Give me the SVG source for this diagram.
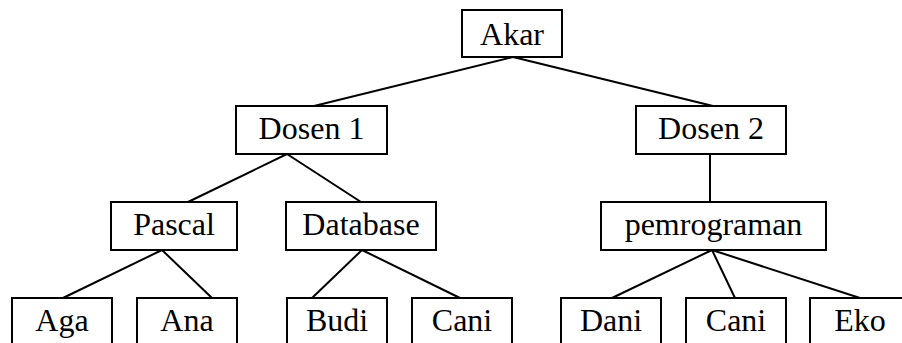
<svg xmlns="http://www.w3.org/2000/svg" width="902" height="343" viewBox="0 0 902 343">
<style>
.box{fill:#fff;stroke:#000;stroke-width:2}
.lbl{font-family:"Liberation Serif","Times New Roman",serif;font-size:32px;fill:#000;text-anchor:middle}
.edge{stroke:#000;stroke-width:2;fill:none}
</style>
<rect width="902" height="343" fill="#fff"/>
<g id="connectors">
<line class="edge" x1="513" y1="57" x2="314" y2="106"/>
<line class="edge" x1="513" y1="57" x2="713" y2="106"/>
<line class="edge" x1="287" y1="154" x2="188" y2="202"/>
<line class="edge" x1="287" y1="154" x2="361" y2="202"/>
<line class="edge" x1="710" y1="154" x2="710" y2="202"/>
<line class="edge" x1="162" y1="250" x2="63" y2="298"/>
<line class="edge" x1="162" y1="250" x2="212" y2="298"/>
<line class="edge" x1="362" y1="250" x2="312" y2="298"/>
<line class="edge" x1="362" y1="250" x2="460" y2="298"/>
<line class="edge" x1="712" y1="250" x2="612" y2="298"/>
<line class="edge" x1="712" y1="250" x2="735" y2="298"/>
<line class="edge" x1="712" y1="250" x2="860" y2="298"/>
</g>
<g id="akar"><rect class="box" x="462" y="10" width="100" height="47"/><text class="lbl" x="512" y="45">Akar</text></g>
<g id="dosen1"><rect class="box" x="236" y="106" width="151" height="48"/><text class="lbl" x="311.5" y="139">Dosen 1</text></g>
<g id="dosen2"><rect class="box" x="636" y="106" width="150" height="48"/><text class="lbl" x="711" y="139">Dosen 2</text></g>
<g id="pascal"><rect class="box" x="111" y="202" width="126" height="48"/><text class="lbl" x="174" y="235">Pascal</text></g>
<g id="database"><rect class="box" x="286" y="202" width="150" height="48"/><text class="lbl" x="361" y="235">Database</text></g>
<g id="pemrograman"><rect class="box" x="601" y="202" width="225" height="48"/><text class="lbl" x="713.5" y="235">pemrograman</text></g>
<g id="aga"><rect class="box" x="12" y="298" width="100" height="50"/><text class="lbl" x="62" y="331">Aga</text></g>
<g id="ana"><rect class="box" x="137" y="298" width="100" height="50"/><text class="lbl" x="187" y="331">Ana</text></g>
<g id="budi"><rect class="box" x="287" y="298" width="100" height="50"/><text class="lbl" x="337" y="331">Budi</text></g>
<g id="cani1"><rect class="box" x="412" y="298" width="100" height="50"/><text class="lbl" x="462" y="331">Cani</text></g>
<g id="dani"><rect class="box" x="561" y="298" width="100" height="50"/><text class="lbl" x="611" y="331">Dani</text></g>
<g id="cani2"><rect class="box" x="686" y="298" width="100" height="50"/><text class="lbl" x="736" y="331">Cani</text></g>
<g id="eko"><rect class="box" x="810" y="298" width="100" height="50"/><text class="lbl" x="860" y="331">Eko</text></g>
</svg>
